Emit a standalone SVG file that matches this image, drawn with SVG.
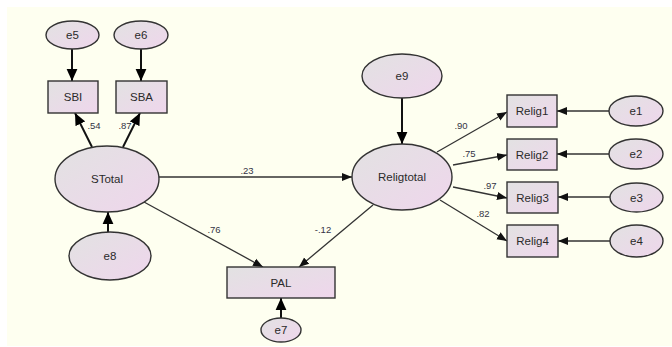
<svg xmlns="http://www.w3.org/2000/svg" width="672" height="347" viewBox="0 0 672 347">
<defs>
<linearGradient id="g" x1="0" y1="0" x2="1" y2="1">
<stop offset="0" stop-color="#e2e2e2"/>
<stop offset="1" stop-color="#efd6ec"/>
</linearGradient>
<marker id="ah" viewBox="0 0 10 10" refX="10" refY="5" markerWidth="10" markerHeight="10" markerUnits="userSpaceOnUse" orient="auto">
<path d="M0,1 L10,5 L0,9 z" fill="#111"/>
</marker>
<marker id="ahb" viewBox="0 0 10 10" refX="10" refY="5" markerWidth="12" markerHeight="12" markerUnits="userSpaceOnUse" orient="auto">
<path d="M0,0.5 L10,5 L0,9.5 z" fill="#000"/>
</marker>
</defs>
<style>
.n{fill:url(#g);stroke:#333;stroke-width:1.4}
.t{font-family:"Liberation Sans",Arial,sans-serif;font-size:11.5px;fill:#2a2a2a;text-anchor:middle;dominant-baseline:central}
.l{font-family:"Liberation Sans",Arial,sans-serif;font-size:9.5px;fill:#334;text-anchor:middle}
.c{stroke:#333;stroke-width:1.3;fill:none;marker-end:url(#ah)}
.cb{stroke:#111;stroke-width:2;fill:none;marker-end:url(#ahb)}
</style>
<rect x="7" y="7" width="665" height="339" fill="#fefff0"/>
<g id="connectors">
<line class="cb" x1="72" y1="49" x2="72" y2="81"/>
<line class="cb" x1="141" y1="49" x2="141" y2="81"/>
<line class="cb" x1="92" y1="147" x2="75" y2="113"/>
<line class="cb" x1="123" y1="147" x2="140" y2="113"/>
<line class="cb" x1="108" y1="232" x2="108" y2="212"/>
<line class="c" x1="159" y1="177" x2="352" y2="177"/>
<line class="c" x1="144" y1="202" x2="263" y2="267"/>
<line class="c" x1="373" y1="205" x2="299" y2="267"/>
<line class="cb" x1="402" y1="98" x2="402" y2="144"/>
<line class="c" x1="437" y1="152" x2="507" y2="112"/>
<line class="c" x1="453" y1="165" x2="507" y2="155"/>
<line class="c" x1="453" y1="187" x2="507" y2="198"/>
<line class="c" x1="440" y1="200" x2="507" y2="241"/>
<line class="c" x1="609" y1="111" x2="557" y2="111"/>
<line class="c" x1="609" y1="154" x2="557" y2="154"/>
<line class="c" x1="610" y1="197" x2="558" y2="197"/>
<line class="c" x1="610" y1="241" x2="558" y2="241"/>
<line class="cb" x1="281" y1="318" x2="281" y2="298"/>
<text class="l" x="94" y="129">.54</text>
<text class="l" x="125" y="129">.87</text>
<text class="l" x="247" y="174">.23</text>
<text class="l" x="214" y="233">.76</text>
<text class="l" x="323" y="233">-.12</text>
<text class="l" x="461" y="129">.90</text>
<text class="l" x="469" y="157">.75</text>
<text class="l" x="490" y="189">.97</text>
<text class="l" x="483" y="217">.82</text>
</g>
<g id="e5"><ellipse class="n" cx="72.5" cy="35" rx="26.5" ry="14"/><text class="t" x="72.5" y="35">e5</text></g>
<g id="e6"><ellipse class="n" cx="141" cy="35" rx="27" ry="14"/><text class="t" x="141" y="35">e6</text></g>
<g id="SBI"><rect class="n" x="48" y="81" width="50" height="32"/><text class="t" x="73" y="97">SBI</text></g>
<g id="SBA"><rect class="n" x="116" y="81" width="51" height="32"/><text class="t" x="141.5" y="97">SBA</text></g>
<g id="STotal"><ellipse class="n" cx="107" cy="179" rx="52" ry="33"/><text class="t" x="107" y="179">STotal</text></g>
<g id="e8"><ellipse class="n" cx="110" cy="256" rx="41" ry="24"/><text class="t" x="110" y="256">e8</text></g>
<g id="Religtotal"><ellipse class="n" cx="402" cy="177" rx="50" ry="33"/><text class="t" x="402" y="177">Religtotal</text></g>
<g id="e9"><ellipse class="n" cx="402" cy="76" rx="40" ry="22"/><text class="t" x="402" y="76">e9</text></g>
<g id="Relig1"><rect class="n" x="507" y="95" width="50" height="32"/><text class="t" x="532" y="111">Relig1</text></g>
<g id="Relig2"><rect class="n" x="507" y="139" width="50" height="31"/><text class="t" x="532" y="154.5">Relig2</text></g>
<g id="Relig3"><rect class="n" x="507" y="182" width="51" height="31"/><text class="t" x="532.5" y="197.5">Relig3</text></g>
<g id="Relig4"><rect class="n" x="507" y="225" width="51" height="32"/><text class="t" x="532.5" y="241">Relig4</text></g>
<g id="e1"><ellipse class="n" cx="636" cy="111" rx="27" ry="15"/><text class="t" x="636" y="111">e1</text></g>
<g id="e2"><ellipse class="n" cx="636" cy="154" rx="27" ry="15"/><text class="t" x="636" y="154">e2</text></g>
<g id="e3"><ellipse class="n" cx="636.5" cy="197.5" rx="26.5" ry="14.5"/><text class="t" x="636.5" y="197.5">e3</text></g>
<g id="e4"><ellipse class="n" cx="636.5" cy="241" rx="26.5" ry="16"/><text class="t" x="636.5" y="241">e4</text></g>
<g id="PAL"><rect class="n" x="227" y="267" width="108" height="31"/><text class="t" x="281" y="282.5">PAL</text></g>
<g id="e7"><ellipse class="n" cx="281" cy="330" rx="20" ry="12"/><text class="t" x="281" y="330">e7</text></g>
</svg>
